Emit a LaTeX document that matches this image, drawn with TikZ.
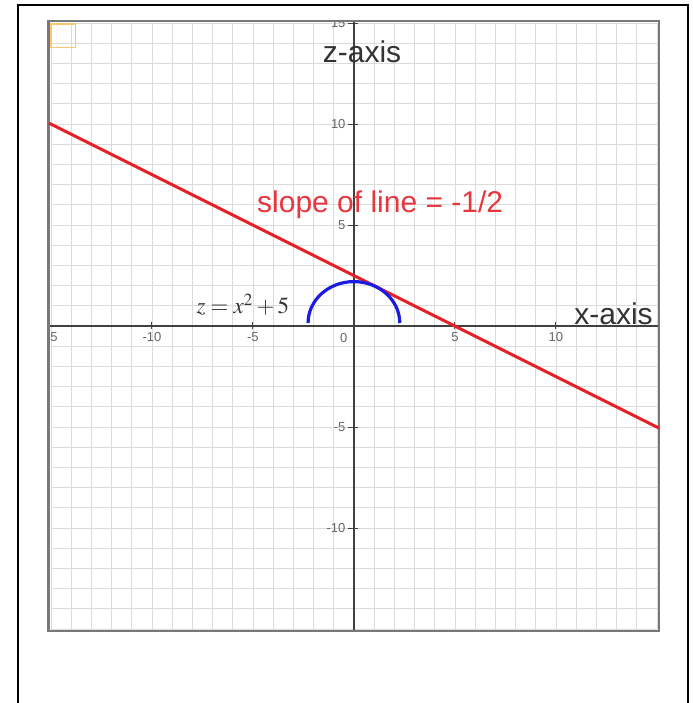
\documentclass[tikz,border=0pt]{standalone}
\usepackage{mathptmx}
\usepackage[no-math]{fontspec}
\setmainfont{Liberation Sans}
\usepackage{tikz}
\usetikzlibrary{positioning}
\definecolor{linered}{RGB}{228,32,40}
\definecolor{arcblue}{RGB}{28,28,225}
\definecolor{boxorange}{RGB}{248,200,110}
\definecolor{framegray}{RGB}{120,120,120}
\tikzset{
  ticklab/.style = {gray!80!black, inner sep = 1pt, font = \fontsize{6.5}{7}\selectfont},
  axislab/.style = {black!80, inner sep = 0pt, font = \fontsize{15}{17}\selectfont}
}
\begin{document}
\begin{tikzpicture}[x = 10.1pt, y = 10.1pt]
\useasboundingbox (-17.52,-18.66) rectangle (16.78,16.14);
% outer border
\draw[line width = 1pt] (-16.63,-18.9) -- (-16.63,15.89) -- (16.53,15.89) -- (16.53,-18.9);
\begin{scope}
\clip (-15.1,-15.1) rectangle (15.1,15.1);
\draw[gray!28, line width = .4pt, step = {(1,1)}] (-15,-15) grid (15,15);
\node[ticklab, anchor = east] (zt15) at (-.3,15) {15};
\end{scope}
% axes
\draw[black!75, line width = .9pt] (-15.1,0) -- (15.1,0);
\draw[black!75, line width = .9pt] (0,-15.1) -- (0,15.1);
\foreach \v in {-10,-5,5,10}
  \draw[black!75, line width = .5pt] (\v,-.15) -- (\v,.2);
\foreach \v in {-10,-5,5,10,15}
  \draw[black!75, line width = .5pt] (-.3,\v) -- (.2,\v);
% tick labels
\node[ticklab, anchor = east] (zt10) at (-.3,10) {10};
\node[ticklab, anchor = east] (zt5) at (-.3,5) {5};
\node[ticklab, anchor = east] (ztm5) at (-.3,-5) {-5};
\node[ticklab, anchor = east] (ztm10) at (-.3,-10) {-10};
\node[ticklab, anchor = north] (xtm10) at (-10,-.2) {-10};
\node[ticklab, anchor = north] (xtm5) at (-5,-.2) {-5};
\node[ticklab, anchor = north] (xt5) at (5,-.2) {5};
\node[ticklab, anchor = north] (xt10) at (10,-.2) {10};
\node[ticklab, anchor = north] (xtm15) at (-14.85,-.2) {5};
\node[ticklab] (xt0) at (-.5,-.6) {0};
% frame
\draw[framegray, line width = 1.4pt] (-15.1,-15.1) rectangle (15.1,15.1);
\draw[boxorange, line width = .6pt] (-15.0,13.8) rectangle (-13.8,14.95);
% curves
\draw[linered, line width = 1.5pt] (-15.1,10.05) -- (15.1,-5.05);
\draw[arcblue, line width = 1.6pt] (-2.27,.15) arc[start angle = 180, end angle = 0, x radius = 2.27, y radius = 2.05];
% labels
\node[axislab] (zlab) at (.4,13.6) {z-axis};
\node[axislab] (xlab) at (12.85,.6) {x-axis};
\node[linered!90!white, inner sep = 0pt, font = \fontsize{15}{17}\selectfont] (slopelab) at (1.3,6.0) {slope of line = -1/2};
\node[black!80, inner sep = 0pt, font = \fontsize{11.5}{13}\selectfont] (curvelab) at (-5.5,1.05) {$z = x^2 + 5$};
\end{tikzpicture}
\end{document}
